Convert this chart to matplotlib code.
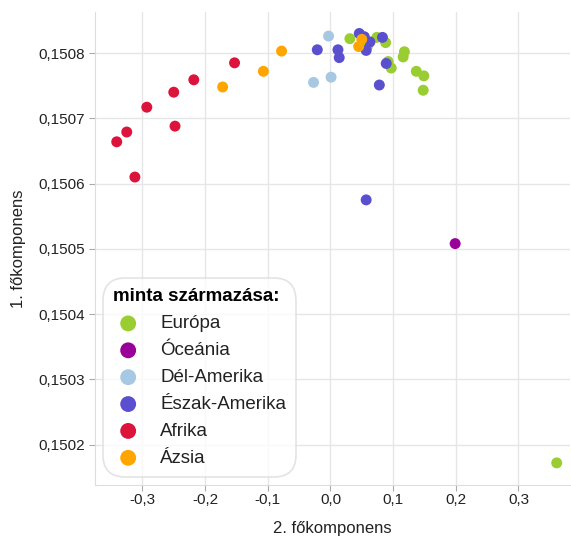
import matplotlib
matplotlib.use("Agg")
import matplotlib.pyplot as plt
from matplotlib.ticker import FuncFormatter

plt.rcParams['font.family'] = ['Liberation Sans', 'DejaVu Sans']

categories = ["Európa", "Óceánia", "Dél-Amerika", "Észak-Amerika", "Afrika", "Ázsia"]
colors = ["#9acd32", "#990099", "#a6c8e2", "#5a4fcf", "#dc143c", "#ffa500"]

europa_x = [0.031, 0.074, 0.088, 0.092, 0.097, 0.118, 0.116, 0.137, 0.149, 0.148, 0.059, 0.361]
europa_y = [0.150822, 0.150824, 0.150816, 0.150787, 0.150777, 0.150802, 0.150794, 0.150772,
            0.150765, 0.150743, 0.150810, 0.150172]
oceania_x = [0.199]
oceania_y = [0.150508]
delam_x = [-0.003, -0.027, 0.001]
delam_y = [0.150826, 0.150755, 0.150763]
eszam_x = [-0.021, 0.012, 0.014, 0.046, 0.054, 0.063, 0.057, 0.083, 0.089, 0.078, 0.057]
eszam_y = [0.150805, 0.150805, 0.150793, 0.150830, 0.150825, 0.150817, 0.150804, 0.150824,
           0.150784, 0.150751, 0.150575]
afrika_x = [-0.341, -0.325, -0.312, -0.293, -0.250, -0.248, -0.218, -0.153]
afrika_y = [0.150664, 0.150679, 0.150610, 0.150717, 0.150740, 0.150688, 0.150759, 0.150785]
azsia_x = [-0.172, -0.107, -0.078, 0.050, 0.045]
azsia_y = [0.150748, 0.150772, 0.150803, 0.150821, 0.150810]

series = [(europa_x, europa_y), (oceania_x, oceania_y), (delam_x, delam_y),
          (eszam_x, eszam_y), (afrika_x, afrika_y), (azsia_x, azsia_y)]

x_ticks = [-0.3, -0.2, -0.1, 0.0, 0.1, 0.2, 0.3]
y_ticks = [0.1502, 0.1503, 0.1504, 0.1505, 0.1506, 0.1507, 0.1508]

fig = plt.figure(figsize=(5.71, 5.42), dpi=100)
ax = fig.add_axes([0.166, 0.105, 0.832, 0.873])

for (xs, ys), c, lab in zip(series, colors, categories):
    ax.scatter(xs, ys, s=62, color=c, label=lab, edgecolors='none', zorder=3)

ax.set_xlim(-0.376, 0.382)
ax.set_ylim(0.150138, 0.150863)
ax.set_xticks(x_ticks)
ax.set_yticks(y_ticks)
ax.xaxis.set_major_formatter(FuncFormatter(lambda v, p: f"{v:.1f}".replace('.', ',').replace('-0,0', '0,0')))
ax.yaxis.set_major_formatter(FuncFormatter(lambda v, p: f"{v:.4f}".replace('.', ',')))
ax.grid(True, color='#e6e6e6', linewidth=1.0, zorder=0)
ax.set_axisbelow(True)
for s in ['top', 'right']:
    ax.spines[s].set_visible(False)
for s in ['left', 'bottom']:
    ax.spines[s].set_color('#dddddd')
ax.tick_params(axis='both', colors='#aaaaaa', labelcolor='#222222', labelsize=11, length=4, width=0.8)
ax.tick_params(axis='y', pad=3)
ax.tick_params(axis='x', pad=2)

ax.set_xlabel("2. főkomponens", fontsize=12, color='#222222', labelpad=10)
ax.set_ylabel("1. főkomponens", fontsize=12, color='#222222', labelpad=9)

leg = ax.legend(title="minta származása:", loc='lower left', bbox_to_anchor=(0.017, 0.017),
                borderaxespad=0, frameon=True, fancybox=True, fontsize=13.5,
                title_fontproperties={'weight': 'bold', 'size': 13.5},
                markerscale=1.45, handletextpad=0.9, labelspacing=0.52,
                borderpad=0.55, handlelength=1.6, alignment='left')
leg.get_frame().set_edgecolor('#dddddd')
leg.get_frame().set_linewidth(1.2)
leg.get_frame().set_boxstyle('round,pad=0,rounding_size=1.2')
for t in leg.get_texts():
    t.set_color('#222222')

fig.savefig("out.png", dpi=100)
